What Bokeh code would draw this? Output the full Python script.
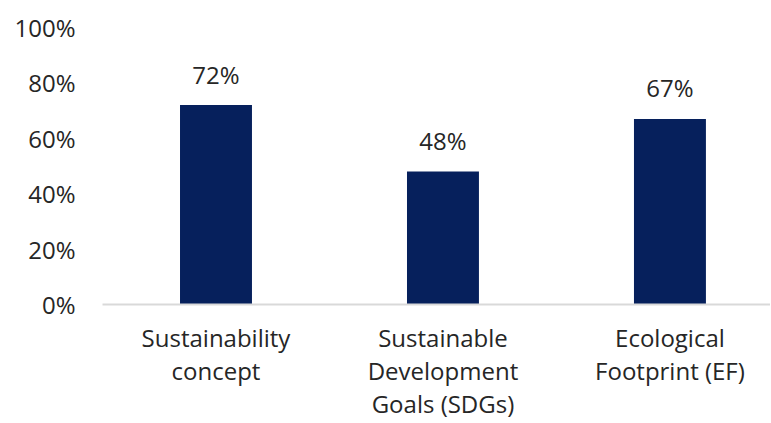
from bokeh.plotting import figure
from bokeh.models import ColumnDataSource, FixedTicker, NumeralTickFormatter, LabelSet
from bokeh.core.properties import value
from bokeh.embed import file_html
from bokeh.resources import INLINE

categories = ["Sustainability\nconcept", "Sustainable\nDevelopment\nGoals (SDGs)", "Ecological\nFootprint (EF)"]
values = [0.72, 0.48, 0.67]
value_labels = ["72%", "48%", "67%"]
y_ticks = [0, 0.2, 0.4, 0.6, 0.8, 1.0]

xs = list(range(len(categories)))
src = ColumnDataSource(dict(x=xs, top=values, lab=value_labels))

FONT = "Open Sans"
FS = "24px"
TXT = "#262626"

p = figure(frame_width=668, frame_height=277, output_backend="svg", toolbar_location=None,
           x_range=(-0.5, 2.443), y_range=(0, 1.0),
           min_border_left=102, min_border_right=0, min_border_top=27, min_border_bottom=0)
p.outline_line_color = None
p.grid.grid_line_color = None
p.background_fill_color = "white"

p.vbar(x="x", top="top", width=0.317, source=src, color="#06205c", line_color=None)

labels = LabelSet(x="x", y="top", text="lab", source=src, text_align="center",
                  text_baseline="middle", y_offset=31, text_font_size=value(FS),
                  text_color=value(TXT), text_font=value(FONT))
p.add_layout(labels)

p.xaxis.ticker = FixedTicker(ticks=xs)
p.xaxis.major_label_overrides = {i: c for i, c in enumerate(categories)}
p.xaxis.axis_line_color = "#d9d9d9"
p.xaxis.axis_line_width = 2
p.xaxis.major_tick_line_color = None
p.xaxis.minor_tick_line_color = None
p.xaxis.major_tick_out = 0
p.xaxis.major_label_standoff = 16
p.xaxis.major_label_text_font = FONT
p.xaxis.major_label_text_font_size = FS
p.xaxis.major_label_text_line_height = 1.0
p.xaxis.major_label_text_color = TXT

p.yaxis.ticker = FixedTicker(ticks=y_ticks)
p.yaxis.formatter = NumeralTickFormatter(format="0%")
p.yaxis.axis_line_color = None
p.yaxis.major_tick_line_color = None
p.yaxis.minor_tick_line_color = None
p.yaxis.major_tick_out = 0
p.yaxis.major_label_standoff = 27
p.yaxis.major_label_text_font = FONT
p.yaxis.major_label_text_font_size = FS
p.yaxis.major_label_text_color = TXT

open("out.html", "w").write(file_html(p, INLINE))
